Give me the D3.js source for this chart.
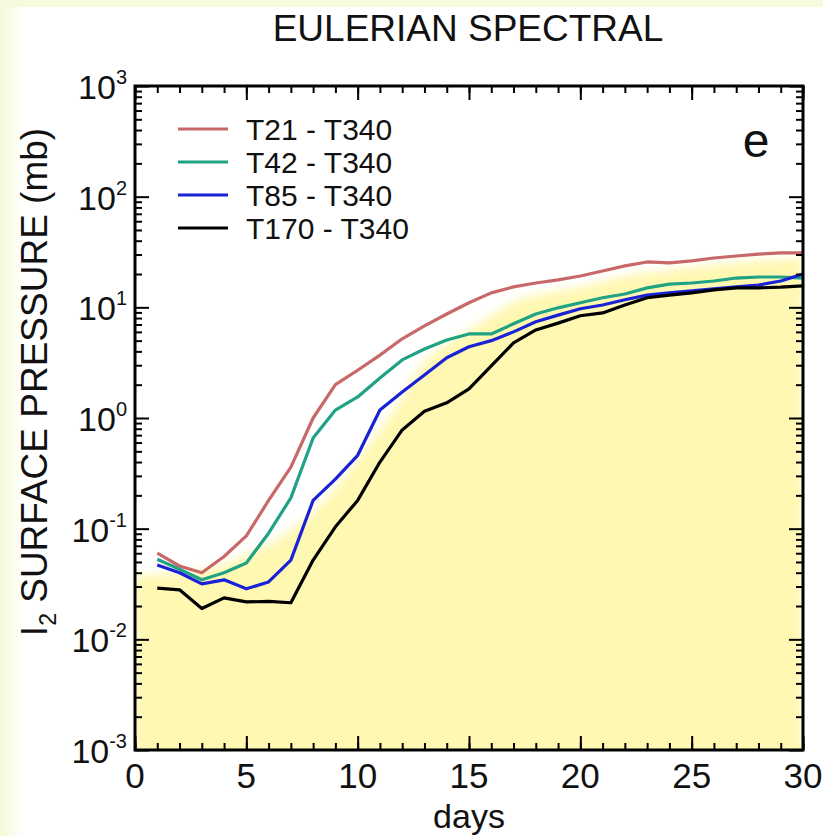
<!DOCTYPE html>
<html>
<head>
<meta charset="utf-8">
<script src="https://cdn.jsdelivr.net/npm/d3@7"></script>
<style>
  html, body { margin: 0; padding: 0; background: #ffffff; }
  svg { display: block; font-family: "Liberation Sans", Arial, Helvetica, sans-serif; }
</style>
</head>
<body>
<script>
// Data
const days = d3.range(1, 31);
const seriesNames = ["T21 - T340", "T42 - T340", "T85 - T340", "T170 - T340"];
const seriesColors = ["#c86868", "#1fa384", "#1a22d6", "#000000"];

const t21 = [0.060, 0.046, 0.040, 0.056, 0.086, 0.18, 0.36, 1.0, 2.0, 2.7,
  3.7, 5.2, 6.8, 8.7, 11.0, 13.5, 15.3, 16.6, 17.7, 19.2,
  21.3, 23.7, 25.7, 25.2, 26.3, 27.9, 29.1, 30.3, 31.0, 31.0];
const t42 = [0.053, 0.043, 0.0345, 0.040, 0.049, 0.091, 0.19, 0.66, 1.18, 1.55,
  2.3, 3.35, 4.2, 5.07, 5.75, 5.75, 7.1, 8.7, 9.9, 11.0,
  12.2, 13.2, 15.0, 16.2, 16.6, 17.3, 18.4, 18.8, 18.8, 18.4];
const t85 = [0.047, 0.040, 0.0317, 0.0345, 0.0286, 0.033, 0.052, 0.18, 0.28, 0.46,
  1.18, 1.72, 2.45, 3.5, 4.4, 5.0, 6.0, 7.4, 8.5, 9.7,
  10.5, 11.7, 12.9, 13.5, 14.1, 14.7, 15.3, 15.9, 17.3, 20.0];
const t170 = [0.029, 0.028, 0.019, 0.0237, 0.0218, 0.022, 0.0214, 0.052, 0.104, 0.18,
  0.40, 0.78, 1.15, 1.37, 1.83, 2.96, 4.77, 6.25, 7.2, 8.4,
  8.9, 10.5, 12.2, 12.9, 13.5, 14.4, 15.0, 15.0, 15.2, 15.6];
const seriesValues = [t21, t42, t85, t170];

// upper edge of the pale yellow band
const shadeDays = [0, 3, 5, 7, 8, 9, 10, 11, 12, 13, 14, 15, 16, 17, 18, 20, 22, 24, 26, 28, 30];
const shadeTop = [0.038, 0.042, 0.058, 0.0975, 0.142, 0.234, 0.42, 0.78, 1.52, 3.2,
  4.6, 6.25, 8.5, 11.2, 12.9, 15.3, 19.2, 21.8, 24.2, 26.3, 27.9];

const xMajor = [0, 5, 10, 15, 20, 25, 30];
const xMinor = d3.range(0, 31);
const yDecades = [-3, -2, -1, 0, 1, 2, 3];

// Layout
const W = 823, H = 836;
const plot = { left: 135, right: 803, top: 86, bottom: 750 };

const svg = d3.select("body").append("svg")
  .attr("width", W)
  .attr("height", H);

const defs = svg.append("defs");
const grad = defs.append("linearGradient").attr("id", "edge").attr("x1", 0).attr("x2", 1);
grad.append("stop").attr("offset", 0).attr("stop-color", "#f3fad6");
grad.append("stop").attr("offset", 1).attr("stop-color", "#ffffff");
defs.append("filter").attr("id", "soft")
  .attr("x", "-5%").attr("y", "-5%").attr("width", "110%").attr("height", "110%")
  .append("feGaussianBlur").attr("stdDeviation", 5);
defs.append("clipPath").attr("id", "plotClip")
  .append("rect")
  .attr("x", plot.left).attr("y", plot.top)
  .attr("width", plot.right - plot.left).attr("height", plot.bottom - plot.top);

// page background: pale strip on the left and top
svg.append("rect").attr("width", W).attr("height", H).attr("fill", "#ffffff");
svg.append("rect").attr("width", 24).attr("height", H).attr("fill", "url(#edge)");
svg.append("rect").attr("width", W).attr("height", 7).attr("fill", "#f6fbdd");

// Scales
const x = d3.scaleLinear().domain([0, 30]).range([plot.left, plot.right]);
const y = d3.scaleLog().domain([1e-3, 1e3]).range([plot.bottom, plot.top]);

// yellow band
const area = d3.area()
  .x((d, i) => x(shadeDays[i]))
  .y0(y(1e-3) + 20)
  .y1(d => y(d))
  .curve(d3.curveMonotoneX);

svg.append("g").attr("clip-path", "url(#plotClip)")
  .append("path")
  .datum(shadeTop)
  .attr("fill", "#fff8b2")
  .attr("filter", "url(#soft)")
  .attr("d", area);

// Lines
const line = d3.line()
  .x((d, i) => x(days[i]))
  .y(d => y(d));

svg.append("g").attr("clip-path", "url(#plotClip)")
  .selectAll("path")
  .data(seriesValues)
  .join("path")
  .attr("fill", "none")
  .attr("stroke", (d, i) => seriesColors[i])
  .attr("stroke-width", 3.2)
  .attr("stroke-linejoin", "round")
  .attr("d", line);

// Axes, ticks pointing inward
const yMinorVals = y.ticks().filter(v => Math.abs(Math.log10(v) - Math.round(Math.log10(v))) > 1e-6);
const yMajorVals = yDecades.map(e => Math.pow(10, e));

function styleAxis(g) {
  g.select(".domain").remove();
  g.selectAll(".tick line").attr("stroke", "#000").attr("stroke-width", 2);
  g.selectAll(".tick text").remove();
}

svg.append("g").attr("transform", `translate(${plot.left},0)`)
  .call(d3.axisRight(y).tickValues(yMajorVals).tickSize(14)).call(styleAxis);
svg.append("g").attr("transform", `translate(${plot.left},0)`)
  .call(d3.axisRight(y).tickValues(yMinorVals).tickSize(7)).call(styleAxis);
svg.append("g").attr("transform", `translate(${plot.right},0)`)
  .call(d3.axisLeft(y).tickValues(yMajorVals).tickSize(14)).call(styleAxis);
svg.append("g").attr("transform", `translate(${plot.right},0)`)
  .call(d3.axisLeft(y).tickValues(yMinorVals).tickSize(7)).call(styleAxis);

svg.append("g").attr("transform", `translate(0,${plot.bottom})`)
  .call(d3.axisTop(x).tickValues(xMajor).tickSize(14)).call(styleAxis);
svg.append("g").attr("transform", `translate(0,${plot.bottom})`)
  .call(d3.axisTop(x).tickValues(xMinor).tickSize(7)).call(styleAxis);
svg.append("g").attr("transform", `translate(0,${plot.top})`)
  .call(d3.axisBottom(x).tickValues(xMajor).tickSize(14)).call(styleAxis);
svg.append("g").attr("transform", `translate(0,${plot.top})`)
  .call(d3.axisBottom(x).tickValues(xMinor).tickSize(7)).call(styleAxis);

// frame
svg.append("rect")
  .attr("x", plot.left).attr("y", plot.top)
  .attr("width", plot.right - plot.left).attr("height", plot.bottom - plot.top)
  .attr("fill", "none").attr("stroke", "#000").attr("stroke-width", 3);

// y tick labels 10^n
const yLab = svg.append("g").selectAll("text")
  .data(yDecades)
  .join("text")
  .attr("x", plot.left - 8)
  .attr("y", d => y(Math.pow(10, d)) + 13)
  .attr("text-anchor", "end")
  .attr("font-size", 34)
  .attr("fill", "#111");
yLab.append("tspan").text("10");
yLab.append("tspan")
  .attr("dy", -15)
  .attr("font-size", 20)
  .text(d => d);

// x tick labels
svg.append("g").selectAll("text")
  .data(xMajor)
  .join("text")
  .attr("x", d => x(d))
  .attr("y", plot.bottom + 38)
  .attr("text-anchor", "middle")
  .attr("font-size", 35)
  .attr("fill", "#111")
  .text(d => d);

svg.append("text")
  .attr("x", (plot.left + plot.right) / 2)
  .attr("y", plot.bottom + 78)
  .attr("text-anchor", "middle")
  .attr("font-size", 34)
  .attr("fill", "#111")
  .text("days");

// y axis title
const yTitle = svg.append("text")
  .attr("transform", `translate(47,382) rotate(-90)`)
  .attr("text-anchor", "middle")
  .attr("font-size", 37)
  .attr("fill", "#111");
yTitle.append("tspan").text("I");
yTitle.append("tspan").attr("dy", 9).attr("font-size", 23).text("2");
yTitle.append("tspan").attr("dy", -9).text(" SURFACE PRESSURE (mb)");

// title
svg.append("text")
  .attr("x", 468)
  .attr("y", 41)
  .attr("text-anchor", "middle")
  .attr("font-size", 37)
  .attr("fill", "#111")
  .text("EULERIAN SPECTRAL");

// panel letter
svg.append("text")
  .attr("x", 756)
  .attr("y", 157)
  .attr("text-anchor", "middle")
  .attr("font-size", 48)
  .attr("fill", "#111")
  .text("e");

// legend
const legend = svg.append("g")
  .selectAll("g")
  .data(seriesNames)
  .join("g")
  .attr("transform", (d, i) => `translate(178,${129 + i * 33})`);
legend.append("line")
  .attr("x1", 0).attr("x2", 50)
  .attr("stroke", (d, i) => seriesColors[i])
  .attr("stroke-width", 3.2);
legend.append("text")
  .attr("x", 68)
  .attr("y", 11)
  .attr("font-size", 30)
  .attr("fill", "#111")
  .text(d => d);
</script>
</body>
</html>
